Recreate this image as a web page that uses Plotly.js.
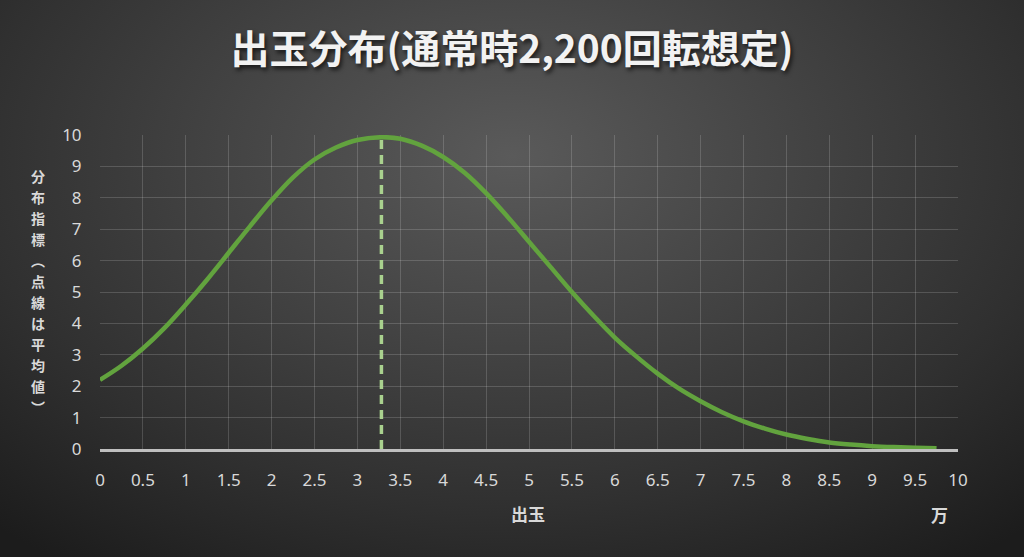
<!DOCTYPE html>
<html>
<head>
<meta charset="utf-8">
<script src="https://cdn.plot.ly/plotly-3.0.1.min.js"></script>
<style>
  html, body { margin:0; padding:0; width:1024px; height:557px; overflow:hidden; }
  body { background: radial-gradient(ellipse 75% 90% at 50% 28%, #5a5a5a 0%, #454545 35%, #303030 70%, #1c1c1c 100%); }
  #chart { width:1024px; height:557px; }
</style>
</head>
<body>
<div id="chart"></div>
<script>
// 出玉 (万玉)
const xValues = [0, 0.25, 0.5, 0.75, 1, 1.25, 1.5, 1.75, 2, 2.25, 2.5, 2.75, 3, 3.28, 3.5, 3.75, 4, 4.25, 4.5, 4.75, 5, 5.25, 5.5, 5.75, 6, 6.25, 6.5, 6.75, 7, 7.25, 7.5, 7.75, 8, 8.25, 8.5, 8.75, 9, 9.25, 9.5, 9.75];
// 分布指標
const yValues = [2.2, 2.65, 3.2, 3.85, 4.6, 5.4, 6.25, 7.1, 7.92, 8.65, 9.22, 9.6, 9.84, 9.93, 9.88, 9.66, 9.3, 8.8, 8.15, 7.4, 6.6, 5.8, 5.0, 4.25, 3.55, 2.95, 2.4, 1.92, 1.52, 1.17, 0.88, 0.65, 0.46, 0.32, 0.21, 0.14, 0.09, 0.06, 0.04, 0.02];
// 平均値 (点線)
const meanX = [3.28, 3.28];
const meanY = [0, 9.93];

const chartTitle = '出玉分布(通常時2,200回転想定)';
const yTitle = ['分','布','指','標','︵','点','線','は','平','均','値','︶'];
const xTitle = '出玉';
const unitLabel = '万';

const FONT = '"Noto Sans", "Noto Sans CJK JP", sans-serif';
const JFONT = '"Noto Sans CJK JP", "Noto Sans", sans-serif';

const traces = [
  {
    x: xValues, y: yValues, type: 'scatter', mode: 'lines',
    line: { color: '#62a33e', width: 4.5, shape: 'spline', smoothing: 1 },
    hoverinfo: 'skip'
  },
  {
    x: meanX, y: meanY, type: 'scatter', mode: 'lines',
    line: { color: '#a9d18e', width: 3.5, dash: '9px,6px' },
    hoverinfo: 'skip'
  }
];

// vertical (tategaki) y-axis title: one annotation per character
const plotTopPx = 135, plotH = 314;
const charStartPx = 176, charStepPx = 21;
const yTitleAnnotations = yTitle.map((ch, i) => ({
  text: ch,
  xref: 'paper', yref: 'paper',
  x: -0.072, y: 1 - (charStartPx + i * charStepPx - plotTopPx) / plotH,
  xanchor: 'center', yanchor: 'middle', showarrow: false,
  font: { family: JFONT, size: 14, color: '#d9d9d9', weight: 700 }
}));

const layout = {
  width: 1024, height: 557,
  paper_bgcolor: 'rgba(0,0,0,0)',
  plot_bgcolor: 'rgba(0,0,0,0)',
  showlegend: false,
  margin: { l: 100, r: 66, t: 135, b: 108 },
  title: {
    text: chartTitle,
    x: 0.5, xanchor: 'center',
    y: 0.912, yref: 'container', yanchor: 'middle',
    font: { family: JFONT, size: 39, color: '#f2f2f2', weight: 700, shadow: '2px 3px 4px rgba(0,0,0,0.65)' }
  },
  xaxis: {
    range: [0, 10], dtick: 0.5, tick0: 0,
    showgrid: true, gridcolor: 'rgba(255,255,255,0.16)', gridwidth: 1,
    zeroline: false,
    showline: true, linecolor: '#bfbfbf', linewidth: 3,
    ticks: 'outside', ticklen: 14, tickcolor: 'rgba(0,0,0,0)',
    tickfont: { family: FONT, size: 17, color: '#d9d9d9' },
    layer: 'below traces', fixedrange: true
  },
  yaxis: {
    range: [0, 10], dtick: 1, tick0: 0,
    showgrid: true, gridcolor: 'rgba(255,255,255,0.16)', gridwidth: 1,
    zeroline: false, showline: false,
    ticks: 'outside', ticklen: 14, tickcolor: 'rgba(0,0,0,0)',
    tickfont: { family: FONT, size: 17, color: '#d9d9d9' },
    layer: 'below traces', fixedrange: true
  },
  annotations: yTitleAnnotations.concat([
    {
      text: xTitle,
      xref: 'paper', yref: 'paper', x: 0.499, y: -0.204,
      xanchor: 'center', yanchor: 'middle', showarrow: false,
      font: { family: JFONT, size: 17, color: '#d9d9d9', weight: 700 }
    },
    {
      text: unitLabel,
      xref: 'paper', yref: 'paper', x: 0.979, y: -0.21,
      xanchor: 'center', yanchor: 'middle', showarrow: false,
      font: { family: JFONT, size: 17, color: '#d9d9d9', weight: 700 }
    }
  ])
};

Plotly.newPlot('chart', traces, layout, { staticPlot: true, displayModeBar: false });
</script>
</body>
</html>
